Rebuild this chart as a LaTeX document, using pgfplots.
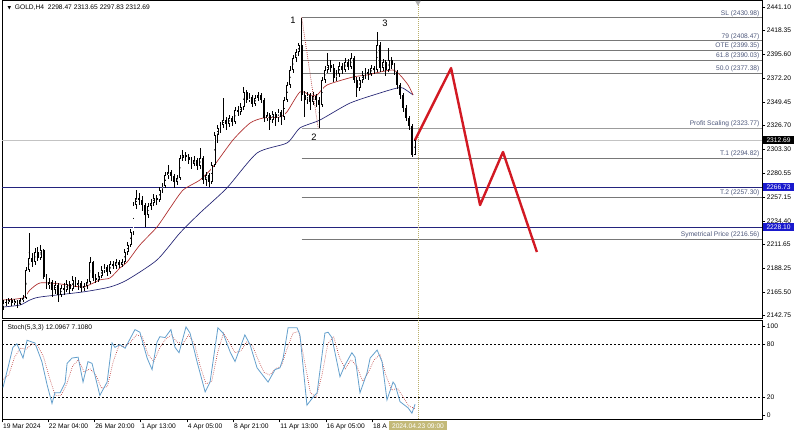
\documentclass[border=0pt]{standalone}
\usepackage{pgfplots}
\usepackage{pgfplotstable}
\pgfplotsset{compat=1.18}
\usepackage{fontspec}
\setmainfont{Liberation Sans}
\newfontfamily\dejavu{DejaVu Sans}
\definecolor{fibline}{RGB}{120,120,120}
\definecolor{fibtext}{RGB}{80,90,125}
\definecolor{navyline}{RGB}{35,35,125}
\definecolor{maRed}{RGB}{175,45,45}
\definecolor{maBlue}{RGB}{35,35,115}
\definecolor{stochBlue}{RGB}{100,160,205}
\definecolor{sigRed}{RGB}{190,60,60}
\definecolor{zig}{RGB}{210,25,35}
\definecolor{vline}{RGB}{185,175,105}
\definecolor{timebox}{RGB}{195,185,120}
\definecolor{pricebox}{RGB}{25,25,205}
\definecolor{curline}{RGB}{195,195,195}

\pgfplotstableread{
i o h l c
0 2151.0 2158.0 2148.2 2155.0
1 2155.0 2158.5 2152.5 2156.0
2 2156.0 2160.0 2153.8 2157.9
3 2157.9 2159.5 2152.0 2155.0
4 2155.0 2159.0 2153.5 2157.0
5 2157.0 2158.2 2150.5 2154.1
6 2154.1 2160.0 2152.8 2157.9
7 2157.9 2163.0 2155.5 2159.9
8 2159.9 2190.0 2158.5 2186.9
9 2186.9 2222.7 2184.5 2198.5
10 2198.5 2203.0 2190.0 2194.7
11 2194.7 2208.0 2192.0 2204.3
12 2204.3 2209.0 2196.0 2198.5
13 2198.5 2211.1 2196.5 2206.2
14 2206.2 2207.5 2178.0 2180.2
15 2180.2 2183.0 2169.0 2172.4
16 2172.4 2179.5 2168.5 2175.3
17 2175.3 2177.0 2161.0 2167.6
18 2167.6 2176.0 2163.5 2172.4
19 2172.4 2174.0 2156.0 2162.8
20 2162.8 2172.0 2160.5 2169.5
21 2169.5 2174.5 2163.0 2167.6
22 2167.6 2177.0 2165.5 2173.4
23 2173.4 2176.0 2164.0 2168.6
24 2168.6 2181.0 2166.5 2177.3
25 2177.3 2180.0 2170.0 2172.4
26 2172.4 2177.5 2168.0 2174.4
27 2174.4 2176.5 2166.0 2169.5
28 2169.5 2174.5 2166.5 2171.5
29 2171.5 2178.5 2169.0 2175.3
30 2175.3 2199.5 2173.5 2194.7
31 2194.7 2196.0 2176.0 2179.2
32 2179.2 2183.5 2174.0 2177.3
33 2177.3 2185.0 2175.0 2181.1
34 2181.1 2190.5 2179.0 2186.9
35 2186.9 2193.0 2184.0 2189.8
36 2189.8 2192.0 2181.0 2185.0
37 2185.0 2196.0 2183.0 2192.7
38 2192.7 2195.5 2187.5 2190.8
39 2190.8 2198.0 2188.0 2194.7
40 2194.7 2197.0 2188.5 2191.8
41 2191.8 2198.0 2189.5 2194.7
42 2194.7 2207.0 2193.0 2204.3
43 2204.3 2214.0 2201.0 2211.1
44 2211.1 2227.0 2209.0 2223.6
45 2223.6 2253.0 2221.0 2249.7
46 2249.7 2264.0 2246.0 2256.5
47 2256.5 2261.0 2250.0 2254.6
48 2254.6 2258.0 2244.0 2249.7
49 2249.7 2252.0 2228.5 2240.1
50 2240.1 2252.0 2237.0 2248.8
51 2248.8 2256.0 2245.0 2251.7
52 2251.7 2260.0 2249.0 2256.5
53 2256.5 2259.5 2250.0 2254.6
54 2254.6 2267.0 2252.5 2264.2
55 2264.2 2271.0 2261.0 2268.1
56 2268.1 2282.0 2266.0 2278.7
57 2278.7 2288.4 2275.0 2281.6
58 2281.6 2284.0 2273.0 2277.8
59 2277.8 2280.0 2266.2 2272.0
60 2272.0 2279.0 2269.5 2275.8
61 2275.8 2298.0 2274.0 2295.2
62 2295.2 2302.9 2292.0 2298.1
63 2298.1 2301.0 2292.5 2296.1
64 2296.1 2299.0 2289.0 2293.2
65 2293.2 2296.0 2285.0 2289.4
66 2289.4 2297.0 2287.0 2293.2
67 2293.2 2295.0 2283.5 2287.4
68 2287.4 2304.8 2285.0 2295.2
69 2295.2 2297.0 2270.0 2273.9
70 2273.9 2282.0 2268.0 2278.7
71 2278.7 2281.0 2267.1 2272.0
72 2272.0 2291.0 2270.0 2288.4
73 2288.4 2320.0 2286.5 2317.4
74 2317.4 2327.0 2310.0 2324.2
75 2324.2 2330.0 2319.0 2327.1
76 2327.1 2353.2 2324.0 2331.9
77 2331.9 2335.0 2322.0 2328.0
78 2328.0 2337.0 2325.5 2333.8
79 2333.8 2336.0 2326.0 2330.0
80 2330.0 2344.0 2328.0 2341.6
81 2341.6 2345.0 2336.0 2339.6
82 2339.6 2348.0 2337.0 2344.5
83 2344.5 2363.8 2342.0 2359.0
84 2359.0 2361.0 2348.5 2351.2
85 2351.2 2358.0 2349.0 2354.1
86 2354.1 2356.0 2344.0 2347.4
87 2347.4 2356.5 2345.0 2353.2
88 2353.2 2359.0 2350.0 2356.1
89 2356.1 2358.0 2348.0 2351.2
90 2351.2 2353.0 2330.0 2333.8
91 2333.8 2340.0 2330.5 2336.7
92 2336.7 2339.0 2322.2 2331.9
93 2331.9 2341.0 2329.0 2337.7
94 2337.7 2340.0 2326.0 2333.8
95 2333.8 2343.0 2330.0 2339.6
96 2339.6 2342.0 2327.0 2334.8
97 2334.8 2354.0 2332.0 2351.2
98 2351.2 2369.0 2349.0 2365.7
99 2365.7 2384.0 2363.0 2380.2
100 2380.2 2395.0 2377.0 2391.8
101 2391.8 2401.0 2388.0 2397.6
102 2397.6 2406.3 2394.0 2404.4
103 2404.4 2430.98 2350.0 2356.1
104 2356.1 2360.0 2334.8 2351.2
105 2351.2 2359.0 2347.0 2356.1
106 2356.1 2358.0 2342.0 2349.3
107 2349.3 2358.5 2346.0 2355.1
108 2355.1 2357.5 2344.0 2351.2
109 2351.2 2354.0 2323.77 2346.4
110 2346.4 2373.0 2344.0 2370.6
111 2370.6 2384.0 2368.0 2380.2
112 2380.2 2396.7 2377.0 2385.1
113 2385.1 2390.0 2378.0 2382.2
114 2382.2 2386.0 2369.0 2372.5
115 2372.5 2380.0 2370.0 2376.4
116 2376.4 2388.0 2373.5 2384.1
117 2384.1 2387.0 2376.0 2380.2
118 2380.2 2392.0 2378.0 2388.0
119 2388.0 2391.0 2380.0 2383.1
120 2383.1 2396.7 2381.0 2391.8
121 2391.8 2394.0 2368.0 2370.6
122 2370.6 2373.0 2354.1 2362.8
123 2362.8 2373.5 2360.0 2370.6
124 2370.6 2379.0 2368.0 2375.4
125 2375.4 2382.0 2372.0 2378.3
126 2378.3 2381.0 2371.0 2376.4
127 2376.4 2385.0 2374.0 2382.2
128 2382.2 2384.5 2376.0 2380.2
129 2380.2 2416.9 2378.0 2404.4
130 2404.4 2407.0 2378.5 2382.2
131 2382.2 2391.0 2379.0 2388.0
132 2388.0 2390.0 2374.0 2380.2
133 2380.2 2401.5 2378.0 2389.9
134 2389.9 2393.0 2381.0 2385.1
135 2385.1 2387.0 2375.0 2378.3
136 2378.3 2380.0 2362.0 2365.7
137 2365.7 2368.0 2352.0 2356.1
138 2356.1 2358.0 2340.0 2343.5
139 2343.5 2346.0 2331.0 2333.8
140 2333.8 2336.0 2322.0 2326.1
141 2326.1 2328.0 2296.1 2298.5
142 2298.47 2313.65 2297.83 2312.69
}\candles

\pgfplotsset{
  nomark/.style={only marks, mark=*, mark size=0.01pt, mark options={draw=none, fill=none}},
}

\begin{document}
\begin{tikzpicture}[font=\fontsize{5}{6}\selectfont]
\useasboundingbox (0,0) rectangle (600pt,327pt);
\fill[white] (0,0) rectangle (600pt,327pt);
\begin{axis}[
  at={(1.5pt,88.5pt)}, anchor=south west,
  scale only axis, width=570pt, height=238.5pt,
  xmin=-0.345, xmax=261.72, ymin=2140.5, ymax=2447.9,
  xtick=\empty,
  ytick={2142.75,2165.50,2188.25,2211.65,2234.40,2257.15,2280.55,2303.30,2326.70,2349.45,2372.20,2395.60,2418.35,2441.10},
  yticklabels={2142.75,2165.50,2188.25,2211.65,2234.40,2257.15,2280.55,2303.30,2326.70,2349.45,2372.20,2395.60,2418.35,2441.10},
  ytick pos=right, yticklabel pos=right,
  tick align=outside, major tick length=2.5pt,
  tick style={black, line width=0.4pt},
  yticklabel style={font=\fontsize{5}{6}\selectfont, anchor=west, inner sep=1pt},
  axis line style={black, line width=0.6pt},
  clip=false,
]
% horizontal reference lines
\addplot[curline, line width=0.5pt] coordinates {(-0.345,2312.69) (261.72,2312.69)};
\addplot[navyline, line width=0.6pt] coordinates {(-0.345,2266.73) (261.72,2266.73)};
\addplot[navyline, line width=0.6pt] coordinates {(-0.345,2228.10) (261.72,2228.10)};
\addplot[fibline, line width=0.45pt] coordinates {(103,2430.98) (261.72,2430.98)};
\addplot[fibline, line width=0.45pt] coordinates {(103,2408.47) (261.72,2408.47)};
\addplot[fibline, line width=0.45pt] coordinates {(103,2399.35) (261.72,2399.35)};
\addplot[fibline, line width=0.45pt] coordinates {(103,2390.03) (261.72,2390.03)};
\addplot[fibline, line width=0.45pt] coordinates {(103,2377.38) (261.72,2377.38)};
\addplot[curline!80!black, line width=0.45pt] coordinates {(103,2323.77) (261.72,2323.77)};
\addplot[fibline, line width=0.45pt] coordinates {(103,2294.82) (261.72,2294.82)};
\addplot[fibline, line width=0.45pt] coordinates {(103,2257.30) (261.72,2257.30)};
\addplot[fibline, line width=0.45pt] coordinates {(103,2216.56) (261.72,2216.56)};
% vertical time line
\addplot[vline, densely dotted, line width=0.5pt] coordinates {(143.1,2140.5) (143.1,2447.9)};
\addplot[only marks, mark=triangle*, mark size=2pt, mark options={rotate=180, fill=gray!60, draw=gray!60}] coordinates {(143.1,2445.5)};
% moving averages
\addplot[maBlue, line width=0.5pt, smooth, tension=0.4] coordinates {(0,2151.1) (5.9,2153.1) (9.3,2157.9) (12.8,2160.8) (27.6,2165.7) (36.9,2170.5) (42.8,2177.3) (53.1,2196.6) (61,2222.7) (67.9,2242.0) (77.2,2266.2) (87.6,2300.0) (97.9,2309.7) (102.4,2324.2) (109.3,2331.9) (119.7,2348.3) (131,2358.9) (135.9,2362.8) (137.9,2362.8) (141.4,2356.1)};
\addplot[maRed, line width=0.5pt, smooth, tension=0.4] coordinates {(0,2157.9) (6.9,2159.9) (9.3,2167.6) (12.8,2174.4) (19.7,2173.4) (27.6,2170.5) (33.4,2177.3) (36.9,2179.2) (40.3,2188.8) (42.8,2194.6) (47.2,2211.1) (53.1,2228.5) (57.6,2246.8) (62.1,2264.2) (67.9,2273.9) (72.4,2286.5) (79.3,2312.6) (85.2,2329.0) (89.7,2333.8) (95.5,2334.8) (97.9,2339.6) (102.4,2359.0) (105.9,2356.1) (108.3,2356.1) (111.7,2365.7) (120.7,2373.5) (125.5,2375.4) (130,2378.3) (134.5,2380.2) (136.9,2375.4) (139.7,2365.7) (141.4,2356.1)};
% candle wicks
\addplot[nomark, error bars/.cd, y dir=both, y explicit, error mark=none,
  error bar style={black, line width=0.55pt}]
  table[x=i, y expr=(\thisrow{h}+\thisrow{l})/2, y error expr=(\thisrow{h}-\thisrow{l})/2] {\candles};
% down bodies
\addplot[nomark, restrict expr to domain={\thisrow{c}-\thisrow{o}}{-1000:-0.0001},
  error bars/.cd, y dir=both, y explicit, error mark=none,
  error bar style={black, line width=1.45pt}]
  table[x=i, y expr=(\thisrow{o}+\thisrow{c})/2, y error expr={max(abs(\thisrow{c}-\thisrow{o})/2,0.5)}] {\candles};
% up bodies
\addplot[nomark, restrict expr to domain={\thisrow{c}-\thisrow{o}}{0:1000},
  error bars/.cd, y dir=both, y explicit, error mark=none,
  error bar style={black, line width=1.45pt}]
  table[x=i, y expr=(\thisrow{o}+\thisrow{c})/2, y error expr={max(abs(\thisrow{c}-\thisrow{o})/2,0.5)}] {\candles};
\addplot[nomark, restrict expr to domain={\thisrow{c}-\thisrow{o}}{0:1000},
  error bars/.cd, y dir=both, y explicit, error mark=none,
  error bar style={white, line width=0.5pt}]
  table[x=i, y expr=(\thisrow{o}+\thisrow{c})/2, y error expr={max(abs(\thisrow{c}-\thisrow{o})/2-0.7,0)}] {\candles};
% 1-2 dotted leg
\addplot[maRed, densely dotted, line width=0.55pt] coordinates {(103,2430.98) (108.7,2323.77)};
% projected path
\addplot[zig, line width=1.8pt, line join=round] coordinates {(142.1,2312.6) (154.5,2382.1) (164.5,2249.7) (172.4,2301.0) (184.1,2204.3)};
% labels
\node[font=\fontsize{7}{8}\selectfont] at (axis cs:100,2428.3) {1};
\node[font=\fontsize{7}{8}\selectfont] at (axis cs:107.2,2315.5) {2};
\node[font=\fontsize{7}{8}\selectfont] at (axis cs:131.7,2425.6) {3};
\node[anchor=south east, text=fibtext, inner sep=0.6pt] at (axis cs:261.2,2430.98) {SL (2430.98)};
\node[anchor=south east, text=fibtext, inner sep=0.6pt] at (axis cs:261.2,2408.47) {79 (2408.47)};
\node[anchor=south east, text=fibtext, inner sep=0.6pt] at (axis cs:261.2,2399.35) {OTE (2399.35)};
\node[anchor=south east, text=fibtext, inner sep=0.6pt] at (axis cs:261.2,2390.03) {61.8 (2390.03)};
\node[anchor=south east, text=fibtext, inner sep=0.6pt] at (axis cs:261.2,2377.38) {50.0 (2377.38)};
\node[anchor=south east, text=fibtext, inner sep=0.6pt] at (axis cs:261.2,2323.77) {Profit Scaling (2323.77)};
\node[anchor=south east, text=fibtext, inner sep=0.6pt] at (axis cs:261.2,2294.82) {T.1 (2294.82)};
\node[anchor=south east, text=fibtext, inner sep=0.6pt] at (axis cs:261.2,2257.30) {T.2 (2257.30)};
\node[anchor=south east, text=fibtext, inner sep=0.6pt] at (axis cs:261.2,2216.56) {Symetrical Price (2216.56)};
\node[anchor=north west, inner sep=0pt] at (rel axis cs:0,1) [xshift=4pt, yshift=-3.5pt] {{\dejavu\fontsize{3.5}{4}\selectfont ▼}\ \ GOLD,H4\ \ 2298.47 2313.65 2297.83 2312.69};
\coordinate (pA) at (axis cs:261.72,2312.69);
\coordinate (pB) at (axis cs:261.72,2266.73);
\coordinate (pC) at (axis cs:261.72,2228.10);
\end{axis}

\begin{axis}[
  at={(1.5pt,12.75pt)}, anchor=south west,
  scale only axis, width=570pt, height=74.25pt,
  xmin=-0.345, xmax=261.72, ymin=-4.49, ymax=106.74,
  ytick={0,20,80,100}, yticklabels={0,20,80,100},
  ytick pos=right, yticklabel pos=right,
  xtick={-0.3,15.51,31.5,47.4,63.4,79.4,95.3,111.3,127.3},
  xticklabels={19 Mar 2024,22 Mar 04:00,26 Mar 20:00,1 Apr 13:00,4 Apr 05:00,8 Apr 21:00,11 Apr 13:00,16 Apr 05:00,18 A},
  xtick pos=bottom,
  tick align=outside, major tick length=2.5pt,
  tick style={black, line width=0.4pt},
  yticklabel style={font=\fontsize{5}{6}\selectfont, anchor=west, inner sep=1pt},
  xticklabel style={font=\fontsize{5}{6}\selectfont, anchor=north west, inner sep=1pt, xshift=-0.5pt},
  axis line style={black, line width=0.6pt},
  clip=false,
]
\addplot[black, line width=0.4pt, dash pattern=on 1.5pt off 1.5pt] coordinates {(-0.345,80) (261.72,80)};
\addplot[black, line width=0.4pt, dash pattern=on 1.5pt off 1.5pt] coordinates {(-0.345,20) (261.72,20)};
\addplot[vline, densely dotted, line width=0.5pt] coordinates {(143.1,-4.49) (143.1,106.74)};
\addplot[sigRed, line width=0.5pt, densely dotted] coordinates {(0,40) (2,45) (4,65) (6,75) (8,74) (10,80) (12,78) (14,65) (16,42) (18,22) (20,22) (22,35) (24,55) (26,62) (28,48) (30,52) (32,45) (34,30) (36,32) (38,60) (40,78) (42,77) (44,82) (46,90) (48,88) (50,68) (52,60) (54,75) (56,85) (58,90) (60,82) (62,80) (64,90) (66,80) (68,55) (70,35) (72,38) (74,70) (76,92) (78,82) (80,70) (82,72) (84,82) (86,78) (88,62) (90,48) (92,45) (94,52) (96,55) (98,75) (100,92) (102,94) (104,60) (106,25) (108,20) (110,45) (112,80) (114,88) (116,65) (118,52) (120,62) (122,55) (124,38) (126,48) (128,62) (130,68) (132,45) (134,28) (136,30) (138,20) (140,10) (142.1,7.108)};
\addplot[stochBlue, line width=0.6pt] coordinates {(0,31) (1.7,53) (3.4,76) (4.8,80) (6.9,64) (8.3,84) (10,82) (11,81) (13.4,60) (15.2,34) (16.9,13) (17.9,25) (19.7,25) (21.4,36) (22.1,58) (23.8,64) (25.9,65) (27.6,37) (29.3,60) (30.7,58) (33.4,22) (35.9,37) (37.6,81) (38.6,76) (40.3,79) (42.1,75) (45.5,96) (47.2,93) (49.7,64) (51.4,51) (53.1,82) (54.1,88) (55.9,87) (57.9,96) (59.3,76) (60.7,70) (63.1,99) (64.5,92) (66.9,60) (69.7,26) (71.4,37) (74.1,98) (75.9,92) (78.3,71) (80,60) (81.7,75) (83.4,90) (85.2,79) (87.6,53) (91.4,37) (93.8,51) (95.5,53) (96.6,64) (98.3,98) (101.4,98) (102.4,90) (104.8,11) (106.9,20) (108.3,25) (111,92) (112.1,93) (113.4,87) (116.2,43) (117.9,56) (120.3,70) (121.4,65) (123.1,25) (125.5,47) (126.6,64) (129,73) (130.7,60) (132.4,17) (134.5,37) (135.2,34) (136.9,15) (139.7,8) (141,2) (142.1,12.0967)};
\node[anchor=north west, inner sep=0pt] at (rel axis cs:0,1) [xshift=4pt, yshift=-3.5pt] {Stoch(5,3,3) 12.0967 7.1080};
\coordinate (tb) at (axis cs:143.1,-4.49);
\end{axis}
% value boxes drawn on top of tick labels
\node[fill=black, text=white, anchor=west, inner xsep=2.6pt, inner ysep=1.2pt] at ([xshift=0.6pt]pA) {2312.69};
\node[fill=pricebox, text=white, anchor=west, inner xsep=2.6pt, inner ysep=1.2pt] at ([xshift=0.6pt]pB) {2266.73};
\node[fill=pricebox, text=white, anchor=west, inner xsep=2.6pt, inner ysep=1.2pt] at ([xshift=0.6pt]pC) {2228.10};
\node[fill=timebox, text=white, anchor=north, inner xsep=2pt, inner ysep=1.5pt] at ([yshift=-1.6pt]tb) {2024.04.23 09:00};
\end{tikzpicture}
\end{document}
